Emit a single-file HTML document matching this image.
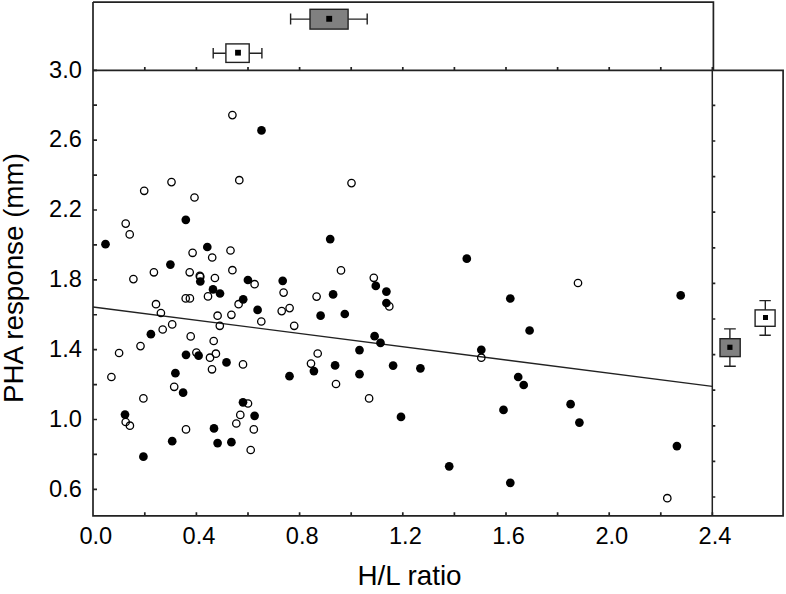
<!DOCTYPE html>
<html><head><meta charset="utf-8"><title>PHA response vs H/L ratio</title>
<style>html,body{margin:0;padding:0;background:#fff;}body{width:786px;height:594px;overflow:hidden;font-family:"Liberation Sans",sans-serif;}svg{display:block;}</style>
</head><body>
<svg width="786" height="594" viewBox="0 0 786 594">
<rect width="786" height="594" fill="#fff"/>
<path d="M93 2.1H713.4V70.3" fill="none" stroke="#222" stroke-width="1.7"/>
<path d="M93 2.1V515.8H783.1V70.3H93" fill="none" stroke="#222" stroke-width="1.7"/>
<path d="M712.3 70.3V515.8" fill="none" stroke="#222" stroke-width="1.5"/>
<path d="M93 70.3h4M93 105.22h4M93 140.14h4M93 175.06h4M93 209.98h4M93 244.9h4M93 279.82h4M93 314.74h4M93 349.66h4M93 384.58h4M93 419.5h4M93 454.42h4M93 489.34h4M144.8 515.8v-3.6M144.8 70.3v-3.4M196.4 515.8v-3.6M196.4 70.3v-3.4M248 515.8v-3.6M248 70.3v-3.4M299.6 515.8v-3.6M299.6 70.3v-3.4M351.2 515.8v-3.6M351.2 70.3v-3.4M402.8 515.8v-3.6M402.8 70.3v-3.4M454.4 515.8v-3.6M454.4 70.3v-3.4M506 515.8v-3.6M506 70.3v-3.4M557.6 515.8v-3.6M557.6 70.3v-3.4M609.2 515.8v-3.6M609.2 70.3v-3.4M660.8 515.8v-3.6M660.8 70.3v-3.4M712.4 515.8v-3.6M712.4 70.3v-3.4M712.3 105.4h3M712.3 141h3M712.3 176.6h3M712.3 212.2h3M712.3 247.8h3M712.3 283.4h3M712.3 319h3M712.3 354.6h3M712.3 390.2h3M712.3 425.8h3M712.3 461.4h3M712.3 497h3" fill="none" stroke="#222" stroke-width="1.7"/>
<path d="M93 307.0L712.3 386.4" fill="none" stroke="#222" stroke-width="1.4"/>
<g fill="none" stroke="#000" stroke-width="1.3"><circle cx="232.4" cy="115.1" r="3.7"/><circle cx="144.2" cy="190.8" r="3.7"/><circle cx="171.5" cy="182.1" r="3.7"/><circle cx="194.5" cy="197.5" r="3.7"/><circle cx="125.7" cy="223.6" r="3.7"/><circle cx="129.7" cy="234.4" r="3.7"/><circle cx="192.6" cy="252.8" r="3.7"/><circle cx="212.2" cy="257.5" r="3.7"/><circle cx="239.3" cy="180.2" r="3.7"/><circle cx="230.5" cy="250.5" r="3.7"/><circle cx="351.5" cy="183.1" r="3.7"/><circle cx="153.9" cy="272.3" r="3.7"/><circle cx="189.7" cy="272.3" r="3.7"/><circle cx="199.8" cy="275.9" r="3.7"/><circle cx="200.3" cy="276.7" r="3.7"/><circle cx="214.9" cy="278" r="3.7"/><circle cx="133.4" cy="279.1" r="3.7"/><circle cx="208" cy="296.4" r="3.7"/><circle cx="185.7" cy="298.4" r="3.7"/><circle cx="189.9" cy="298.4" r="3.7"/><circle cx="156" cy="304.2" r="3.7"/><circle cx="160.9" cy="313" r="3.7"/><circle cx="217.6" cy="315.7" r="3.7"/><circle cx="172.2" cy="324.4" r="3.7"/><circle cx="219.8" cy="325.8" r="3.7"/><circle cx="162.7" cy="329.5" r="3.7"/><circle cx="190.7" cy="336.4" r="3.7"/><circle cx="213.7" cy="341" r="3.7"/><circle cx="140.5" cy="346.1" r="3.7"/><circle cx="232.4" cy="270.2" r="3.7"/><circle cx="238.6" cy="304.2" r="3.7"/><circle cx="254.6" cy="284.2" r="3.7"/><circle cx="283.6" cy="292.6" r="3.7"/><circle cx="281.7" cy="311.1" r="3.7"/><circle cx="289.6" cy="308.1" r="3.7"/><circle cx="316.6" cy="296.6" r="3.7"/><circle cx="341" cy="270.4" r="3.7"/><circle cx="231.4" cy="314.8" r="3.7"/><circle cx="261.3" cy="321.5" r="3.7"/><circle cx="294.2" cy="325.8" r="3.7"/><circle cx="373.8" cy="277.8" r="3.7"/><circle cx="389.3" cy="306.4" r="3.7"/><circle cx="578" cy="283" r="3.7"/><circle cx="119.1" cy="353" r="3.7"/><circle cx="196.4" cy="352.6" r="3.7"/><circle cx="210" cy="357.7" r="3.7"/><circle cx="215.9" cy="353.7" r="3.7"/><circle cx="212" cy="369.3" r="3.7"/><circle cx="111.4" cy="377" r="3.7"/><circle cx="174.2" cy="386.8" r="3.7"/><circle cx="143.4" cy="398.4" r="3.7"/><circle cx="125.7" cy="422" r="3.7"/><circle cx="129.9" cy="425.7" r="3.7"/><circle cx="186" cy="429.4" r="3.7"/><circle cx="243" cy="364.4" r="3.7"/><circle cx="317.7" cy="353.5" r="3.7"/><circle cx="311" cy="363.6" r="3.7"/><circle cx="336" cy="384" r="3.7"/><circle cx="248" cy="403.5" r="3.7"/><circle cx="240.3" cy="414.9" r="3.7"/><circle cx="236.3" cy="423.5" r="3.7"/><circle cx="253.8" cy="429.4" r="3.7"/><circle cx="369.1" cy="398.4" r="3.7"/><circle cx="481.3" cy="357.7" r="3.7"/><circle cx="250.7" cy="450" r="3.7"/><circle cx="667.3" cy="498.2" r="3.7"/></g>
<g fill="#000"><circle cx="261.5" cy="130.4" r="4.35"/><circle cx="185.8" cy="219.8" r="4.35"/><circle cx="105.5" cy="244.2" r="4.35"/><circle cx="207.3" cy="247" r="4.35"/><circle cx="330.2" cy="239.1" r="4.35"/><circle cx="466.8" cy="258.7" r="4.35"/><circle cx="170.4" cy="264.6" r="4.35"/><circle cx="200.3" cy="281.5" r="4.35"/><circle cx="213" cy="289.4" r="4.35"/><circle cx="220" cy="293.5" r="4.35"/><circle cx="150.9" cy="334.2" r="4.35"/><circle cx="247.9" cy="280" r="4.35"/><circle cx="282.7" cy="280.8" r="4.35"/><circle cx="243.2" cy="299.3" r="4.35"/><circle cx="257.6" cy="309.9" r="4.35"/><circle cx="333.1" cy="294.4" r="4.35"/><circle cx="320.6" cy="315.7" r="4.35"/><circle cx="375.8" cy="285.9" r="4.35"/><circle cx="386.4" cy="291.6" r="4.35"/><circle cx="386.4" cy="303" r="4.35"/><circle cx="344.8" cy="314" r="4.35"/><circle cx="374.6" cy="336.2" r="4.35"/><circle cx="380.5" cy="342.9" r="4.35"/><circle cx="510.3" cy="298.5" r="4.35"/><circle cx="529.6" cy="330.5" r="4.35"/><circle cx="680.7" cy="295.4" r="4.35"/><circle cx="186" cy="354.8" r="4.35"/><circle cx="198.6" cy="355.7" r="4.35"/><circle cx="175.4" cy="373.2" r="4.35"/><circle cx="183.1" cy="392.7" r="4.35"/><circle cx="125" cy="414.6" r="4.35"/><circle cx="214" cy="428.4" r="4.35"/><circle cx="226.5" cy="362.4" r="4.35"/><circle cx="313.9" cy="371.1" r="4.35"/><circle cx="335.1" cy="365.4" r="4.35"/><circle cx="289.5" cy="376.2" r="4.35"/><circle cx="243" cy="402.3" r="4.35"/><circle cx="254.6" cy="415.8" r="4.35"/><circle cx="359.5" cy="350.1" r="4.35"/><circle cx="359.5" cy="374.2" r="4.35"/><circle cx="393.1" cy="365.6" r="4.35"/><circle cx="420.4" cy="368.3" r="4.35"/><circle cx="401" cy="416.9" r="4.35"/><circle cx="481.3" cy="349.8" r="4.35"/><circle cx="518.2" cy="377" r="4.35"/><circle cx="523.7" cy="385" r="4.35"/><circle cx="503.5" cy="409.9" r="4.35"/><circle cx="570.6" cy="404.2" r="4.35"/><circle cx="579.4" cy="422.6" r="4.35"/><circle cx="172.2" cy="441.2" r="4.35"/><circle cx="217.6" cy="443.1" r="4.35"/><circle cx="143.4" cy="456.7" r="4.35"/><circle cx="231.4" cy="442.2" r="4.35"/><circle cx="449.2" cy="466.3" r="4.35"/><circle cx="510.3" cy="482.8" r="4.35"/><circle cx="676.9" cy="446.1" r="4.35"/></g>
<path d="M213.2 53.2H225.9M249.2 53.2H261.9M213.2 48.1V58.5M261.9 48.1V58.5" stroke="#222" stroke-width="1.4" fill="none"/><rect x="225.9" y="43.9" width="23.3" height="18.5" fill="#fff" stroke="#222" stroke-width="1.4"/><rect x="235.1" y="49.8" width="5.8" height="5.8" fill="#000"/>
<path d="M290.6 19.1H310M348.1 19.1H367.2M290.6 13.4V24.4M367.2 13.4V24.4" stroke="#222" stroke-width="1.4" fill="none"/><rect x="310" y="9.3" width="38.1" height="19.8" fill="#808080" stroke="#222" stroke-width="1.4"/><rect x="326.25" y="15.85" width="5.9" height="5.9" fill="#000"/>
<path d="M729.9 328.9V338.7M729.9 356.6V366.2M724.1 328.9H735.8M724.1 366.2H735.8" stroke="#222" stroke-width="1.4" fill="none"/><rect x="720" y="338.7" width="20.2" height="17.9" fill="#808080" stroke="#222" stroke-width="1.4"/><rect x="727.3" y="344.7" width="5.2" height="5.2" fill="#000"/>
<path d="M765.3 300.6V309.9M765.3 326.3V335.2M759.4 300.6H770.8M759.4 335.2H770.8" stroke="#222" stroke-width="1.4" fill="none"/><rect x="755.1" y="309.9" width="20" height="16.4" fill="#fff" stroke="#222" stroke-width="1.4"/><rect x="763" y="315" width="5" height="5" fill="#000"/>
<g font-family="Liberation Sans, sans-serif" font-size="23.6" fill="#000"><text x="81.9" y="77.5" text-anchor="end">3.0</text><text x="81.9" y="147.34" text-anchor="end">2.6</text><text x="81.9" y="217.18" text-anchor="end">2.2</text><text x="81.9" y="287.02" text-anchor="end">1.8</text><text x="81.9" y="356.86" text-anchor="end">1.4</text><text x="81.9" y="426.7" text-anchor="end">1.0</text><text x="81.9" y="496.54" text-anchor="end">0.6</text><text x="95.8" y="544" text-anchor="middle">0.0</text><text x="199" y="544" text-anchor="middle">0.4</text><text x="302.2" y="544" text-anchor="middle">0.8</text><text x="405.4" y="544" text-anchor="middle">1.2</text><text x="508.6" y="544" text-anchor="middle">1.6</text><text x="611.8" y="544" text-anchor="middle">2.0</text><text x="715" y="544" text-anchor="middle">2.4</text></g>
<g font-family="Liberation Sans, sans-serif" font-size="27" fill="#000"><text transform="translate(409.5 585) scale(1.031 1)" text-anchor="middle">H/L ratio</text><text transform="translate(23.4 278.1) rotate(-90) scale(1.029 1)" text-anchor="middle">PHA response (mm)</text></g>
</svg>
</body></html>
